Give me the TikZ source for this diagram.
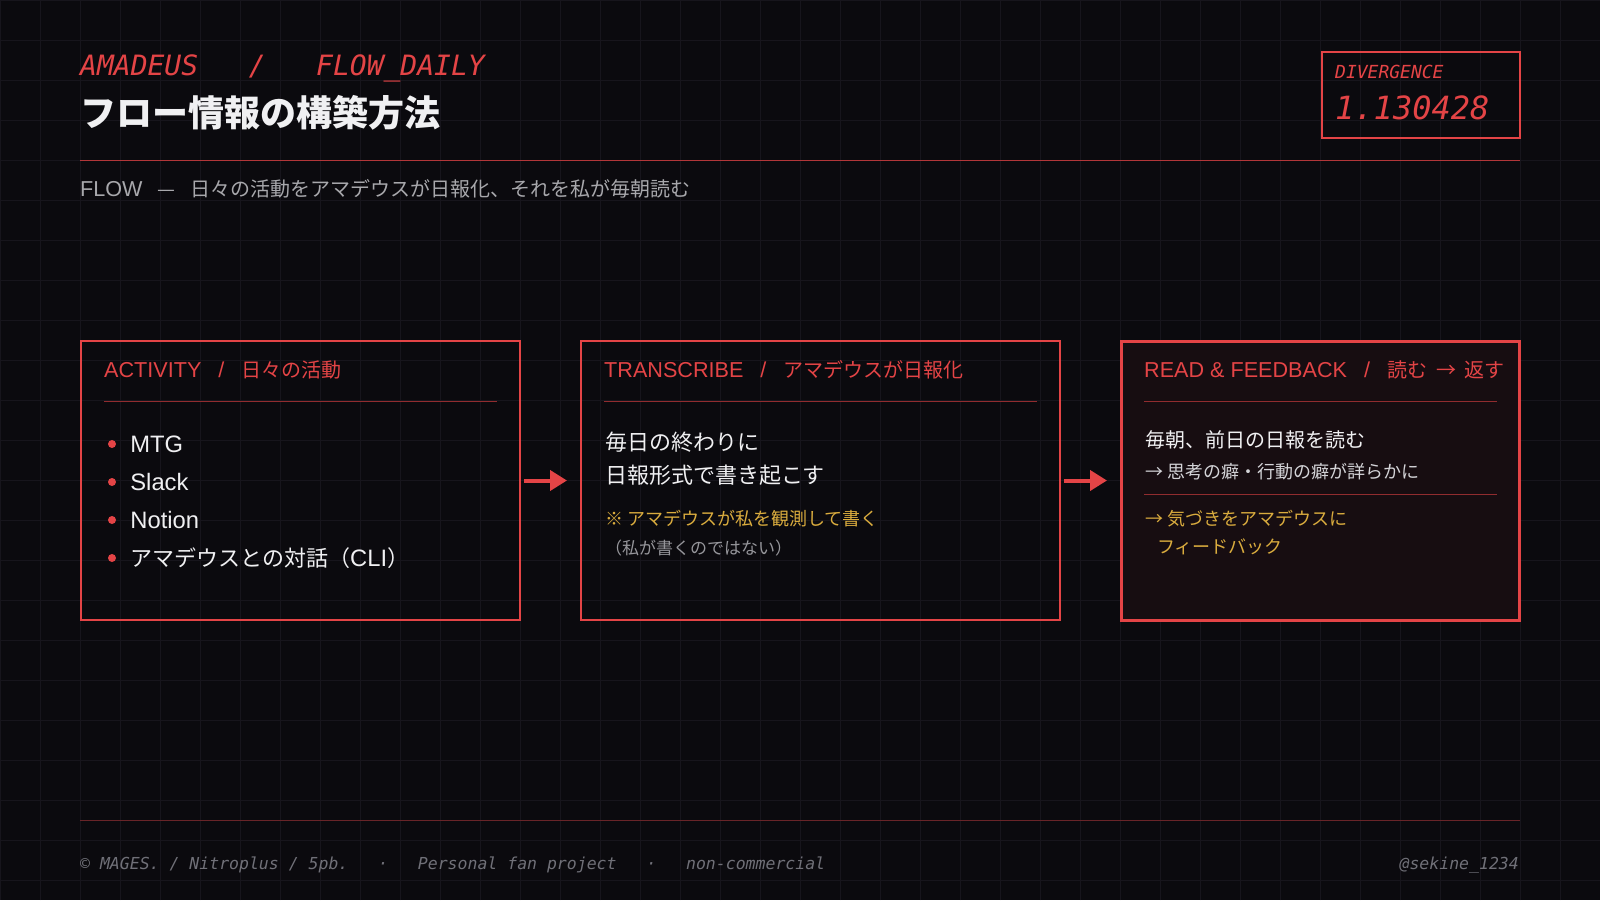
\documentclass[tikz,border=0pt]{standalone}
\usepackage{fontspec}
\setmainfont{Noto Sans CJK JP}
\setmonofont{DejaVu Sans Mono}
\newfontfamily\latfont{Liberation Sans}[Scale=1.08]
\usepackage{xcolor}
\usepackage{tikz}
\usetikzlibrary{arrows.meta, positioning, calc}
\definecolor{bgdark}{RGB}{11,10,14}
\definecolor{gridc}{RGB}{23,21,28}
\definecolor{myred}{RGB}{228,68,70}
\definecolor{headrule}{RGB}{178,54,57}
\definecolor{rulered}{RGB}{145,44,47}
\definecolor{dimred}{RGB}{105,36,40}
\definecolor{txtwhite}{RGB}{240,240,242}
\definecolor{txtsoft}{RGB}{212,212,216}
\definecolor{txtgray}{RGB}{168,168,172}
\definecolor{txtdim}{RGB}{150,150,155}
\definecolor{mygold}{RGB}{218,172,62}
\definecolor{footgray}{RGB}{112,112,120}
\definecolor{hdrread}{RGB}{23,13,17}
\newcommand{\lattxt}[1]{{\latfont #1}}
\newcommand{\hdrsep}{\hspace{17pt}\lattxt{/}\hspace{17pt}}
\tikzset{
  stage/.style={rectangle, draw=myred, line width=2pt,
    minimum height=279pt, inner sep=0pt, outer sep=0pt},
  laststage/.style={stage, line width=3pt, fill=hdrread},
  hdr/.style={anchor=west, inner sep=0pt, text=myred,
    font=\fontsize{20}{24}\selectfont},
  bodytxt/.style={anchor=west, inner sep=0pt, text=txtwhite,
    font=\fontsize{22}{26}\selectfont},
  subtxt/.style={anchor=west, inner sep=0pt, text=txtsoft,
    font=\fontsize{18}{22}\selectfont},
  notetxt/.style={anchor=west, inner sep=0pt, text=mygold,
    font=\fontsize{18}{22}\selectfont},
  bulletdot/.style={circle, fill=myred, inner sep=0pt, minimum size=8pt},
  innerrule/.style={rulered, line width=1pt},
  arrow/.style={-{Triangle[length=17pt, width=20pt]}, line width=4pt, color=myred}
}

\begin{document}
\begin{tikzpicture}[x=1pt, y=-1pt,
  monoit/.style={inner sep=0pt, anchor=base west}]

  % Background
  \fill[bgdark] (0,0) rectangle (1600,900);
  \useasboundingbox (0,0) rectangle (1600,900);
  \draw[gridc, line width=1pt] (0,0) grid[step=40pt] (1600,900);

  % Title block
  \node[monoit, text=myred, font=\fontsize{28}{32}\selectfont\ttfamily\itshape] (kicker) at (80,75)
    {AMADEUS\ \ \ /\ \ \ FLOW\_DAILY};
  \node[anchor=west, inner sep=0pt, text=txtwhite, font=\fontsize{36}{40}\selectfont\bfseries] (title) at (80,113)
    {フロー情報の構築方法};
  \draw[headrule, line width=1pt] (80,160) -- (1520,160);
  \node[anchor=west, inner sep=0pt, text=txtgray, font=\fontsize{20}{24}\selectfont] (subtitle) at (80,189)
    {\lattxt{FLOW}\hspace{15pt}—\hspace{15pt}日々の活動をアマデウスが日報化、それを私が毎朝読む};

  % Divergence meter
  \node[draw=myred, line width=2pt, minimum width=198pt, minimum height=86pt, inner sep=0pt] (divbox) at (1421,95) {};
  \node[monoit, text=myred, font=\fontsize{18}{20}\selectfont\ttfamily\itshape] (divlabel)
    at ($(divbox.north west)+(14,27)$) {DIVERGENCE};
  \node[monoit, text=myred, font=\fontsize{32}{34}\selectfont\ttfamily\itshape] (divvalue)
    at ($(divbox.north west)+(14,68)$) {1.130428};

  % Stages
  \node[stage, minimum width=439pt] (act) at (300.5,480.5) {};
  \node[stage, minimum width=479pt, right=61pt of act] (trans) {};
  \node[laststage, minimum width=398pt, right=61pt of trans] (read) {};

  % Activity
  \node[hdr] (acthdr) at ($(act.north west)+(23,29)$) {\lattxt{ACTIVITY}\hdrsep 日々の活動};
  \draw[innerrule] ($(act.north west)+(23,60)$) -- ($(act.north east)+(-23,60)$);
  \node[bulletdot] (dot1) at ($(act.north west)+(31,103)$) {};
  \node[bulletdot] (dot2) at ($(act.north west)+(31,141)$) {};
  \node[bulletdot] (dot3) at ($(act.north west)+(31,179)$) {};
  \node[bulletdot] (dot4) at ($(act.north west)+(31,217)$) {};
  \node[bodytxt, right=14pt of dot1] (item1) {\lattxt{MTG}};
  \node[bodytxt, right=14pt of dot2] (item2) {\lattxt{Slack}};
  \node[bodytxt, right=14pt of dot3] (item3) {\lattxt{Notion}};
  \node[bodytxt, right=14pt of dot4] (item4) {アマデウスとの対話（\lattxt{CLI}）};

  % Transcribe
  \node[hdr] (transhdr) at ($(trans.north west)+(23,29)$) {\lattxt{TRANSCRIBE}\hdrsep アマデウスが日報化};
  \draw[innerrule] ($(trans.north west)+(23,60)$) -- ($(trans.north east)+(-23,60)$);
  \node[bodytxt] (trans1) at ($(trans.north west)+(24,101)$) {毎日の終わりに};
  \node[bodytxt] (trans2) at ($(trans.north west)+(24,134)$) {日報形式で書き起こす};
  \node[notetxt] (trans3) at ($(trans.north west)+(24,178)$) {※ アマデウスが私を観測して書く};
  \node[notetxt, text=txtdim, font=\fontsize{17}{20}\selectfont] (trans4)
    at ($(trans.north west)+(24,207)$) {（私が書くのではない）};

  % Read and feedback
  \node[hdr] (readhdr) at ($(read.north west)+(23,29)$)
    {\lattxt{READ \& FEEDBACK}\hdrsep 読む\hspace{9pt}→\hspace{8pt}返す};
  \draw[innerrule] ($(read.north west)+(23,60)$) -- ($(read.north east)+(-22,60)$);
  \node[bodytxt, font=\fontsize{20}{24}\selectfont] (read1) at ($(read.north west)+(24,99)$) {毎朝、前日の日報を読む};
  \node[subtxt] (read2) at ($(read.north west)+(24,131)$) {→ 思考の癖・行動の癖が詳らかに};
  \draw[innerrule] ($(read.north west)+(23,153)$) -- ($(read.north east)+(-22,153)$);
  \node[notetxt] (read3) at ($(read.north west)+(24,178)$) {→ 気づきをアマデウスに};
  \node[notetxt] (read4) at ($(read.north west)+(36,206)$) {フィードバック};

  % Paths
  \draw[arrow, shorten <=4pt, shorten >=14pt] (act) -- (trans);
  \draw[arrow, shorten <=4pt, shorten >=14pt] (trans) -- (read);

  % Footer
  \draw[dimred, line width=1pt] (80,820) -- (1520,820);
  \node[monoit, text=footgray, font=\fontsize{16.5}{18}\selectfont\ttfamily\itshape\frenchspacing] (credit) at (80,869)
    {© MAGES. / Nitroplus / 5pb.\ \ \ ·\ \ \ Personal fan project\ \ \ ·\ \ \ non-commercial};
  \node[monoit, anchor=base east, text=footgray, font=\fontsize{16.5}{18}\selectfont\ttfamily\itshape] (handle) at (1519,869)
    {@sekine\_1234};
\end{tikzpicture}
\end{document}
